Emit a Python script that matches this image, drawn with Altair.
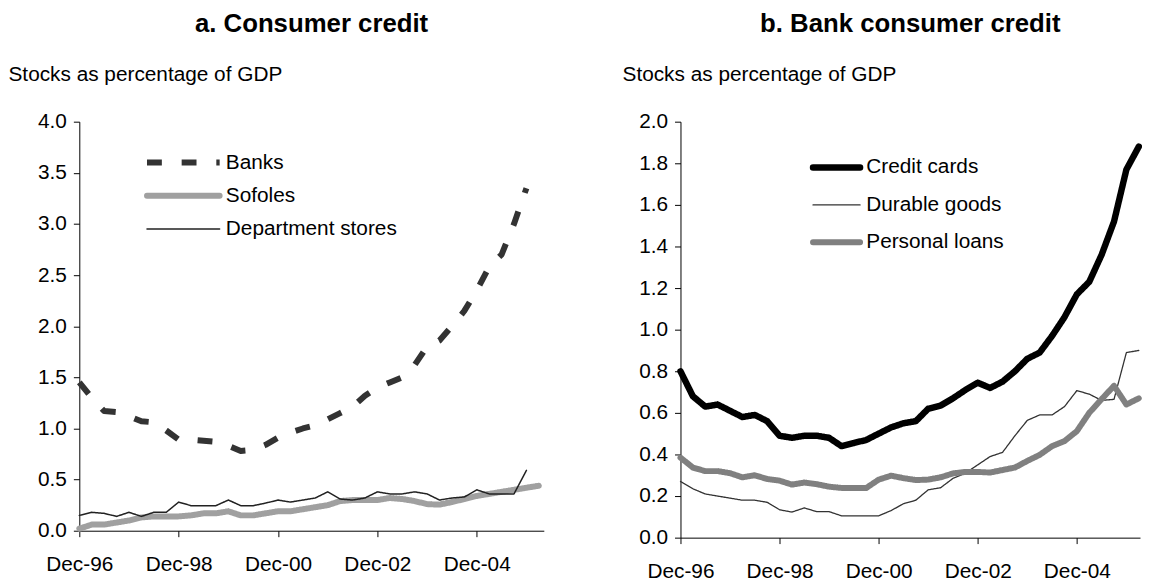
import altair as alt
import pandas as pd

FONT = "Liberation Sans"

# quarterly observations, index 0 = Dec-96
TICK_POS = [0, 8, 16, 24, 32]
TICK_LABELS = ["Dec-96", "Dec-98", "Dec-00", "Dec-02", "Dec-04"]

# ---- panel a: Consumer credit (stocks as % of GDP)
A_SERIES = ["Banks", "Sofoles", "Department stores"]
banks = [1.45, 1.30, 1.17, 1.16, 1.12, 1.07, 1.06, 0.98, 0.89, 0.89, 0.88, 0.87,
         0.83, 0.78, 0.79, 0.84, 0.91, 0.96, 1.00, 1.03, 1.09, 1.15, 1.21, 1.32,
         1.40, 1.45, 1.50, 1.62, 1.80, 1.86, 2.00, 2.15, 2.35, 2.58, 2.70, 3.00, 3.35]
sofoles = [0.02, 0.06, 0.06, 0.08, 0.10, 0.13, 0.14, 0.14, 0.14, 0.15, 0.17, 0.17,
           0.19, 0.15, 0.15, 0.17, 0.19, 0.19, 0.21, 0.23, 0.25, 0.29, 0.30, 0.30,
           0.30, 0.32, 0.31, 0.29, 0.26, 0.255, 0.28, 0.31, 0.34, 0.36, 0.38, 0.40,
           0.42, 0.44]
dept = [0.15, 0.18, 0.17, 0.14, 0.18, 0.14, 0.18, 0.18, 0.28, 0.245, 0.245, 0.245,
        0.30, 0.245, 0.245, 0.27, 0.30, 0.28, 0.30, 0.32, 0.38, 0.31, 0.30, 0.32,
        0.38, 0.36, 0.36, 0.38, 0.36, 0.30, 0.32, 0.33, 0.40, 0.36, 0.36, 0.36, 0.59]

# ---- panel b: Bank consumer credit
B_SERIES = ["Credit cards", "Durable goods", "Personal loans"]
credit = [0.80, 0.68, 0.63, 0.64, 0.61, 0.58, 0.59, 0.56, 0.49, 0.48, 0.49, 0.49,
          0.48, 0.44, 0.455, 0.47, 0.50, 0.53, 0.55, 0.56, 0.62, 0.635, 0.67, 0.71,
          0.745, 0.72, 0.75, 0.80, 0.86, 0.89, 0.97, 1.06, 1.17, 1.23, 1.36, 1.52,
          1.77, 1.88]
durable = [0.27, 0.235, 0.21, 0.20, 0.19, 0.18, 0.18, 0.17, 0.134, 0.123, 0.143, 0.125,
           0.125, 0.105, 0.105, 0.105, 0.105, 0.13, 0.163, 0.18, 0.23, 0.24, 0.285, 0.31,
           0.35, 0.39, 0.41, 0.49, 0.564, 0.59, 0.59, 0.63, 0.707, 0.69, 0.66, 0.665,
           0.89, 0.90]
personal = [0.385, 0.337, 0.32, 0.32, 0.31, 0.29, 0.30, 0.282, 0.274, 0.255, 0.265, 0.257,
            0.245, 0.239, 0.239, 0.239, 0.279, 0.298, 0.286, 0.277, 0.279, 0.29, 0.309, 0.316,
            0.316, 0.313, 0.325, 0.337, 0.369, 0.398, 0.44, 0.464, 0.512, 0.60, 0.666, 0.73,
            0.64, 0.67]


def frame(names, series):
    rows = []
    for name, vals in zip(names, series):
        for i, v in enumerate(vals):
            rows.append({"q": i, "v": v, "s": name})
    return pd.DataFrame(rows)


label_expr = "[" + ",".join("'%s'" % t for t in TICK_LABELS) + "][round(datum.value/8)]"


def panel(df, names, colors, dashes, widths, caps, ymax, ystep, xmax, width, height,
          title, title_x, leg):
    # leg: (symbol start, symbol end, label start) in x units, first row y, row step
    yticks = [round(k * ystep, 2) for k in range(int(round(ymax / ystep)) + 1)]
    xscale = alt.Scale(domain=[0, xmax], nice=False, zero=False)
    yscale = alt.Scale(domain=[0, ymax], nice=False)
    xaxis = alt.Axis(values=TICK_POS, labelExpr=label_expr, title=None, grid=False,
                     tickSize=6, labelPadding=17, labelFontSize=21,
                     labelFlush=False, labelOverlap=False,
                     domainColor="black", tickColor="black", labelColor="black",
                     labelFont=FONT, domainWidth=1, tickWidth=1)
    yaxis = alt.Axis(values=yticks, format=".1f", grid=False, tickSize=6,
                     labelPadding=7, labelFontSize=21, labelFont=FONT,
                     labelFlush=False, labelOverlap=False,
                     labelColor="black", domainColor="black", tickColor="black",
                     domainWidth=1, tickWidth=1,
                     title="Stocks as percentage of GDP", titleAngle=0,
                     titleAlign="left", titleBaseline="alphabetic",
                     titleX=title_x, titleY=-42, titleFontSize=21,
                     titleFontWeight="normal", titleFont=FONT, titleColor="black")
    color = alt.Color("s:N", scale=alt.Scale(type="ordinal", domain=names, range=colors),
                      legend=None)
    dash = alt.StrokeDash("s:N", scale=alt.Scale(type="ordinal", domain=names, range=dashes),
                          legend=None)
    sw = alt.StrokeWidth("s:N", scale=alt.Scale(type="ordinal", domain=names, range=widths),
                         legend=None)

    xs, xe, xt, y0, ystep_leg = leg
    legdf = pd.DataFrame({"s": names,
                          "x1": [xs] * len(names), "x2": [xe] * len(names),
                          "xt": [xt] * len(names),
                          "y": [y0 - k * ystep_leg for k in range(len(names))]})

    layers = []
    for name, cap in zip(names, caps):
        layers.append(
            alt.Chart(df).transform_filter(alt.datum.s == name)
            .mark_line(strokeCap=cap, strokeJoin="round")
            .encode(x=alt.X("q:Q", scale=xscale, axis=xaxis),
                    y=alt.Y("v:Q", scale=yscale, axis=yaxis),
                    color=color, strokeDash=dash, strokeWidth=sw)
        )
    for name, cap in zip(names, caps):
        layers.append(
            alt.Chart(legdf).transform_filter(alt.datum.s == name)
            .mark_rule(strokeCap=cap)
            .encode(x=alt.X("x1:Q", scale=xscale, axis=xaxis), x2="x2:Q",
                    y=alt.Y("y:Q", scale=yscale, axis=yaxis),
                    color=color, strokeDash=dash, strokeWidth=sw)
        )
    layers.append(
        alt.Chart(legdf).mark_text(align="left", baseline="middle", fontSize=21,
                                   font=FONT, color="black")
        .encode(x=alt.X("xt:Q", scale=xscale, axis=xaxis),
                y=alt.Y("y:Q", scale=yscale, axis=yaxis), text="s:N")
    )
    return alt.layer(*layers).properties(
        width=width, height=height,
        title=alt.TitleParams(title, fontSize=26, fontWeight="bold", font=FONT,
                              anchor="middle", baseline="alphabetic", offset=6,
                              color="black"))


left = panel(frame(A_SERIES, [banks, sofoles, dept]), A_SERIES,
             ["#333333", "#a0a0a0", "#222222"], [[15, 20], [1, 0], [1, 0]], [6, 6, 1.5],
             ["butt", "round", "round"],
             4.0, 0.5, 37.4, 469, 413, "a. Consumer credit", -72,
             (5.45, 11.3, 11.8, 3.60, 0.325))
right = panel(frame(B_SERIES, [credit, durable, personal]), B_SERIES,
              ["#000000", "#333333", "#808080"], [[1, 0], [1, 0], [1, 0]], [6.5, 1.3, 6],
              ["round", "round", "round"],
              2.0, 0.2, 37.1, 464, 420, "b. Bank consumer credit", -59,
              (10.7, 14.5, 15.0, 1.78, 0.18))

chart = (
    alt.hconcat(left, right, spacing=138, bounds="flush")
    .resolve_scale(color="independent", strokeDash="independent", strokeWidth="independent")
    .properties(padding=0)
    .configure(background="white", font=FONT, view=alt.ViewConfig(stroke=None))
)

chart.save("out.html", embed_options={"renderer": "svg", "actions": False})
